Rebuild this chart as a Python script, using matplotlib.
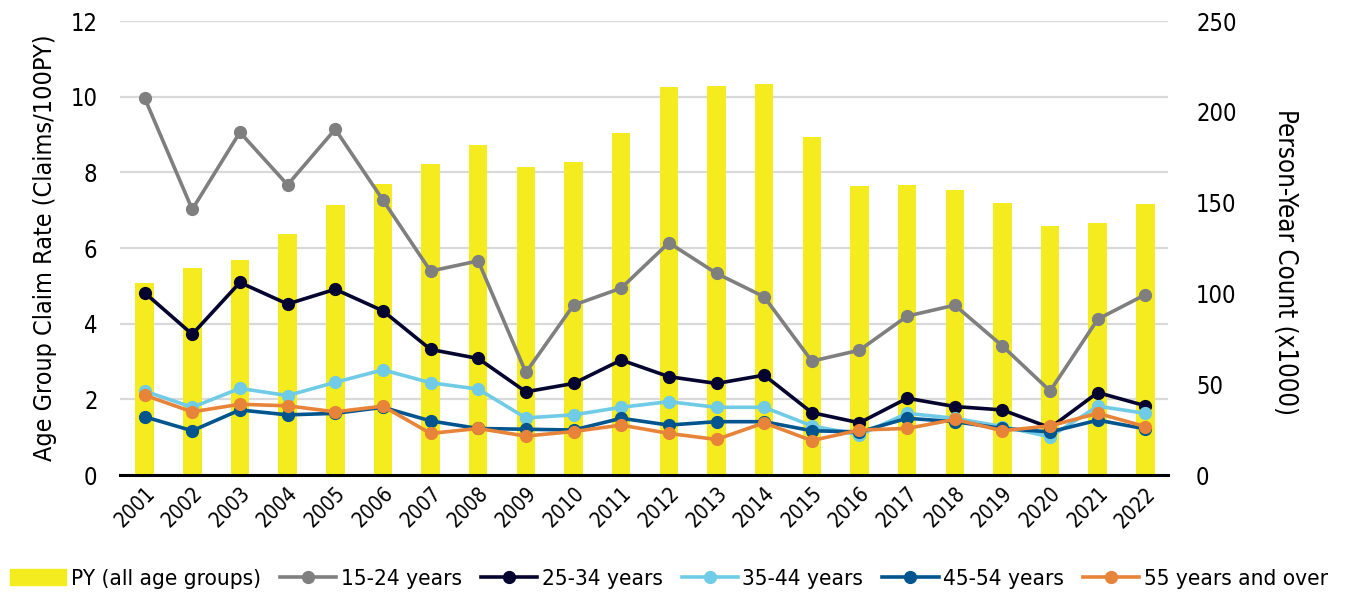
import numpy as np
import matplotlib
matplotlib.use("Agg")
import matplotlib.pyplot as plt
from matplotlib.patches import Patch
from matplotlib.lines import Line2D

years = [str(y) for y in range(2001, 2023)]

py_count = [105.7, 114.2, 118.4, 132.9, 148.7, 160.4, 171.3, 181.5, 169.8, 172.2, 188.3,
            213.5, 214.0, 215.3, 186.3, 159.3, 159.7, 156.9, 149.8, 137.1, 138.8, 149.2]

age_15_24 = [9.97, 7.02, 9.06, 7.67, 9.14, 7.27, 5.39, 5.66, 2.71, 4.49, 4.94,
             6.14, 5.33, 4.71, 3.01, 3.30, 4.20, 4.49, 3.41, 2.22, 4.12, 4.77]
age_25_34 = [4.82, 3.72, 5.09, 4.52, 4.91, 4.34, 3.32, 3.08, 2.20, 2.42, 3.04,
             2.60, 2.42, 2.64, 1.65, 1.38, 2.03, 1.81, 1.72, 1.25, 2.18, 1.83]
age_35_44 = [2.22, 1.79, 2.29, 2.10, 2.45, 2.78, 2.44, 2.27, 1.51, 1.59, 1.79,
             1.94, 1.79, 1.79, 1.30, 1.06, 1.63, 1.50, 1.28, 1.01, 1.82, 1.63]
age_45_54 = [1.54, 1.17, 1.72, 1.59, 1.63, 1.79, 1.43, 1.23, 1.21, 1.19, 1.50,
             1.32, 1.41, 1.41, 1.17, 1.14, 1.50, 1.41, 1.23, 1.14, 1.45, 1.22]
age_55_up = [2.11, 1.67, 1.87, 1.83, 1.67, 1.82, 1.10, 1.23, 1.03, 1.15, 1.32,
             1.10, 0.94, 1.38, 0.91, 1.19, 1.23, 1.47, 1.17, 1.30, 1.63, 1.28]

series = [
    ("15-24 years", age_15_24, "#7f7f7f"),
    ("25-34 years", age_25_34, "#05032f"),
    ("35-44 years", age_35_44, "#6fcbe6"),
    ("45-54 years", age_45_54, "#00558f"),
    ("55 years and over", age_55_up, "#e8833a"),
]

plt.rcParams['font.family'] = ['DejaVu Sans']
plt.rcParams['font.stretch'] = 'condensed'

fig = plt.figure(figsize=(13.46, 5.94), dpi=100)
ax = fig.add_axes([0.089, 0.2003, 0.779, 0.7643])
ax2 = ax.twinx()
ax.set_zorder(2)
ax.patch.set_visible(False)

x = np.arange(len(years))

# bars on the right axis, gridlines follow the left axis ticks
ax2.bar(x, py_count, width=0.39, color="#f4ec1e", zorder=2)
ax2.set_ylim(0, 250)
ax2.set_yticks(range(0, 251, 50))
left_ticks = range(0, 13, 2)
for t in left_ticks:
    ax2.axhline(t * 250 / 12, color="#d9d9d9", lw=1.6, zorder=0)

# claim-rate lines on the left axis
for label, vals, col in series:
    ax.plot(x, vals, "-o", color=col, lw=2.6, markersize=8.5, label=label)

ax.set_ylim(0, 12)
ax.set_yticks(list(left_ticks))
ax.set_xlim(-0.52, 21.48)
ax.set_xticks(x)
ax.set_xticklabels(years, rotation=45, ha="right", rotation_mode="anchor")

for a in (ax, ax2):
    for s in ("left", "right", "top", "bottom"):
        a.spines[s].set_visible(False)
    a.tick_params(length=0, labelsize=17)
ax.spines["bottom"].set_visible(True)
ax.spines["bottom"].set_linewidth(2.2)
ax.spines["bottom"].set_color("black")
ax.tick_params(axis="x", labelsize=15, pad=6)
ax.tick_params(axis="y", pad=16)
ax2.tick_params(axis="y", pad=20)

ax.set_ylabel("Age Group Claim Rate (Claims/100PY)", fontsize=18, labelpad=10)
ax2.set_ylabel("Person-Year Count (x1000)", fontsize=18.5, rotation=270, labelpad=36)
ax2.yaxis.set_label_coords(1.124, 0.47)

handles = [Patch(color="#f4ec1e", label="PY (all age groups)")]
for label, vals, col in series:
    handles.append(Line2D([0], [0], color=col, lw=2.6, marker="o", markersize=8.5, label=label))
fig.legend(handles=handles, loc="lower center", bbox_to_anchor=(0.497, -0.026), ncol=6,
           frameon=False, fontsize=16.2, handlelength=2.5, handletextpad=0.2, columnspacing=0.85)

fig.savefig("out.png", dpi=100)
